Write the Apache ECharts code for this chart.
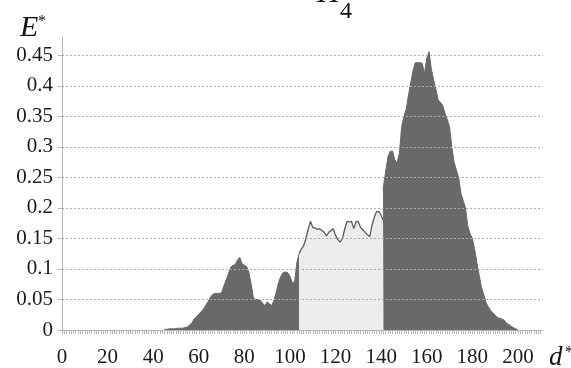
<!DOCTYPE html>
<html><head><meta charset="utf-8">
<script src="https://cdn.jsdelivr.net/npm/echarts@6/dist/echarts.min.js"></script>
<style>html,body{margin:0;padding:0;background:#fff}#c{width:571px;height:368px}</style>
</head><body><div id="c"></div><script>
// x positions (d*) and values (E*) for the three shaded parts of the profile
const dDark1 = [45,46,47,48,49,50,51,52,53,54,55,56,57,58,59,60,61,62,63,64,65,66,67,68,69,70,71,72,73,74,75,76,77,78,79,80,81,82,83,84,85,86,87,88,89,90,91,92,93,94,95,96,97,98,99,100,101,102,103,104];
const vDark1 = [0.001,0.001,0.002,0.002,0.002,0.002,0.003,0.003,0.003,0.004,0.005,0.008,0.012,0.018,0.022,0.026,0.030,0.034,0.040,0.046,0.053,0.058,0.060,0.060,0.060,0.061,0.072,0.082,0.092,0.103,0.106,0.107,0.115,0.119,0.108,0.106,0.104,0.094,0.075,0.052,0.050,0.050,0.049,0.044,0.040,0.046,0.043,0.040,0.049,0.062,0.078,0.088,0.094,0.095,0.094,0.088,0.078,0.078,0.110,0.125];
const dLight = [104,105,106,107,108,109,110,111,112,113,114,115,116,117,118,119,120,121,122,123,124,125,126,127,128,129,130,131,132,133,134,135,136,137,138,139,140,140.8];
const vLight = [0.125,0.133,0.138,0.150,0.165,0.178,0.168,0.167,0.165,0.166,0.163,0.160,0.154,0.160,0.163,0.166,0.155,0.148,0.144,0.150,0.165,0.178,0.177,0.178,0.166,0.178,0.177,0.168,0.164,0.160,0.156,0.153,0.172,0.185,0.194,0.194,0.188,0.180];
const dDark2 = [140.8,141,142,143,144,145,146,147,148,149,150,151,152,153,154,155,156,157,158,159,160,161,162,163,164,165,166,167,168,169,170,171,172,173,174,175,176,177,178,179,180,181,182,183,184,185,186,187,188,189,190,191,192,193,194,195,196,197,198,199,200];
const vDark2 = [0.230,0.235,0.260,0.284,0.293,0.293,0.279,0.274,0.290,0.333,0.350,0.362,0.385,0.405,0.425,0.438,0.438,0.438,0.437,0.420,0.445,0.456,0.428,0.410,0.395,0.377,0.373,0.368,0.355,0.345,0.333,0.300,0.275,0.262,0.250,0.224,0.212,0.200,0.170,0.158,0.150,0.133,0.110,0.090,0.070,0.058,0.045,0.038,0.032,0.028,0.024,0.021,0.019,0.018,0.016,0.011,0.009,0.006,0.004,0.002,0.000];
const xLabels = [0,20,40,60,80,100,120,140,160,180,200];
const yLabels = [0,0.05,0.1,0.15,0.2,0.25,0.3,0.35,0.4,0.45];
const gridVals = [0.05,0.1,0.15,0.2,0.25,0.3,0.35,0.4,0.45];
const xTicks = Array.from({length: 211}, (_, i) => i);

const zip = (xs, ys) => xs.map((x, i) => [x, ys[i]]);
const FONT = '"Liberation Serif", "DejaVu Serif", serif';
const DARK = '#696969';

const chart = echarts.init(document.getElementById('c'));
chart.setOption({
  backgroundColor: '#fff',
  animation: false,
  title: [
    {text: 'H', left: 317, top: -22, textStyle: {fontFamily: FONT, fontSize: 32, fontWeight: 'normal', fontStyle: 'italic', color: '#111'}, padding: 0},
    {text: '4', left: 340, top: 0, textStyle: {fontFamily: FONT, fontSize: 24, fontWeight: 'normal', color: '#111'}, padding: 0},
    {text: 'E', left: 20, top: 13, textStyle: {fontFamily: FONT, fontSize: 30, fontWeight: 'normal', fontStyle: 'italic', color: '#111'}, padding: 0},
    {text: '*', left: 38, top: 14, textStyle: {fontFamily: FONT, fontSize: 16, fontWeight: 'normal', color: '#111'}, padding: 0},
    {text: 'd', left: 549, top: 344, textStyle: {fontFamily: FONT, fontSize: 27, fontWeight: 'normal', fontStyle: 'italic', color: '#111'}, padding: 0},
    {text: '*', left: 565, top: 345, textStyle: {fontFamily: FONT, fontSize: 16, fontWeight: 'normal', color: '#111'}, padding: 0}
  ],
  grid: {left: 62, right: 28, top: 37, bottom: 37},
  xAxis: {
    type: 'value', min: 0, max: 211,
    axisLine: {show: true, lineStyle: {color: '#b5b5b5', width: 1}},
    axisTick: {show: true, customValues: xTicks, length: 4, lineStyle: {color: '#b5b5b5'}},
    axisLabel: {customValues: xLabels, margin: 17, fontFamily: FONT, fontSize: 21, color: '#1a1a1a'},
    splitLine: {show: false}
  },
  yAxis: {
    type: 'value', min: 0, max: 0.48,
    axisLine: {show: true, lineStyle: {color: '#b5b5b5', width: 1}},
    axisTick: {show: true, customValues: yLabels, length: 4, lineStyle: {color: '#b5b5b5'}},
    axisLabel: {customValues: yLabels, margin: 9, fontFamily: FONT, fontSize: 21, color: '#1a1a1a',
      formatter: v => String(+v.toFixed(2))},
    splitLine: {show: false}
  },
  series: [
    {type: 'line', data: [], z: 1, silent: true,
     markLine: {symbol: 'none', silent: true, label: {show: false},
       lineStyle: {color: '#ababab', type: [2, 2], width: 1},
       data: gridVals.map(v => ({yAxis: v}))}},
    {type: 'line', z: 3, data: zip(dDark1, vDark1), showSymbol: false, symbol: 'none',
     lineStyle: {color: DARK, width: 1}, areaStyle: {color: DARK, opacity: 1}},
    {type: 'line', z: 3, data: zip(dLight, vLight), showSymbol: false, symbol: 'none',
     lineStyle: {color: '#5a5a5a', width: 1.3}, areaStyle: {color: '#ececec', opacity: 1}},
    {type: 'line', z: 3, data: zip(dDark2, vDark2), showSymbol: false, symbol: 'none',
     lineStyle: {color: DARK, width: 1}, areaStyle: {color: DARK, opacity: 1}}
  ]
});
</script></body></html>
